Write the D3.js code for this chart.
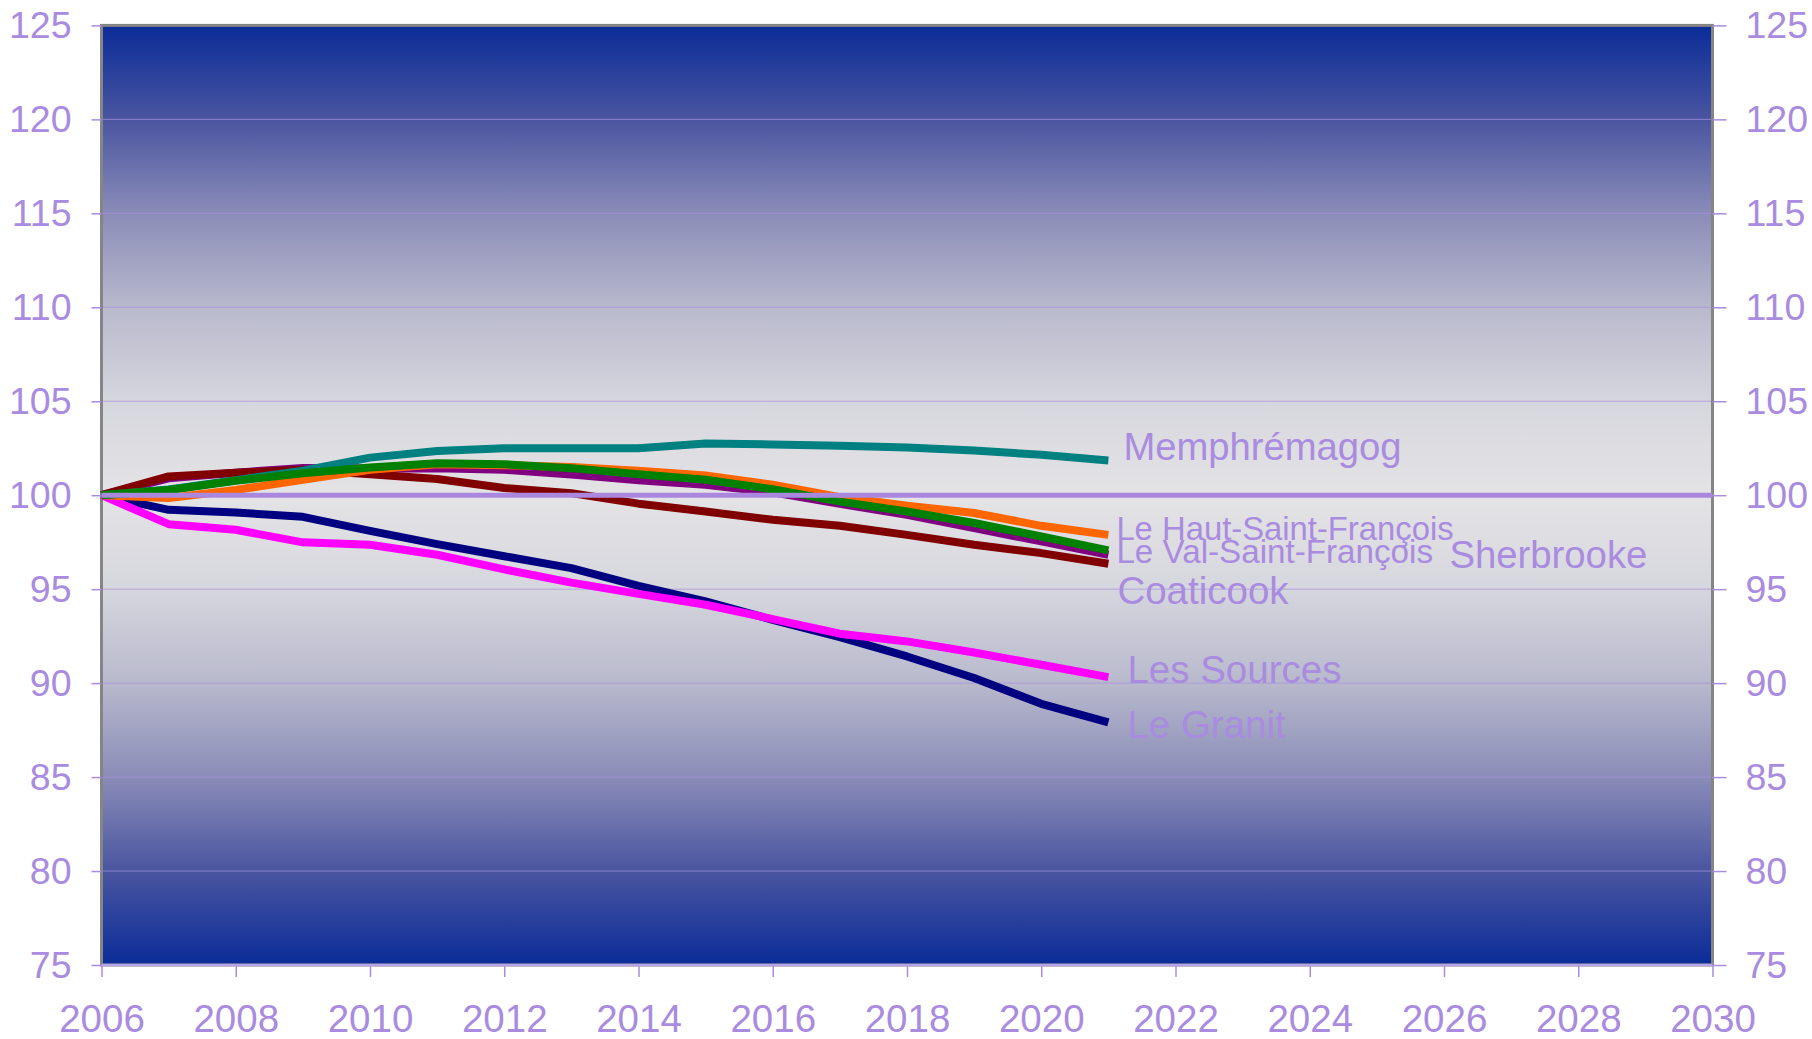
<!DOCTYPE html>
<html>
<head>
<meta charset="utf-8">
<script src="https://cdn.jsdelivr.net/npm/d3@7"></script>
<style>
  body { margin: 0; background: #ffffff; }
  svg { display: block; }
  text { font-family: "Liberation Sans", Arial, sans-serif; fill: #a98be0; }
</style>
</head>
<body>
<div id="chart"></div>
<script>
// years and index values (2006 = 100)
var years = [2006, 2007, 2008, 2009, 2010, 2011, 2012, 2013, 2014, 2015, 2016, 2017, 2018, 2019, 2020, 2021];

var memphremagog   = [100, 100.3, 100.8, 101.3, 102.0, 102.35, 102.5, 102.5, 102.5, 102.75, 102.7, 102.63, 102.54, 102.38, 102.15, 101.85];
var hautStFrancois = [100, 99.85, 100.28, 100.82, 101.35, 101.65, 101.6, 101.5, 101.3, 101.05, 100.56, 99.9, 99.44, 99.05, 98.37, 97.89];
var valStFrancois  = [100, 100.28, 100.77, 101.17, 101.47, 101.7, 101.65, 101.44, 101.12, 100.82, 100.32, 99.66, 99.13, 98.52, 97.8, 97.06];
var sherbrooke     = [100, 100.9, 101.2, 101.45, 101.42, 101.44, 101.35, 101.1, 100.8, 100.56, 100.15, 99.54, 98.96, 98.25, 97.54, 96.83];
var coaticook      = [100, 101.0, 101.2, 101.35, 101.12, 100.86, 100.38, 100.11, 99.55, 99.13, 98.69, 98.37, 97.89, 97.36, 96.92, 96.35];
var lesSources     = [100, 98.46, 98.16, 97.49, 97.36, 96.83, 96.05, 95.35, 94.75, 94.17, 93.41, 92.63, 92.22, 91.63, 90.98, 90.32];
var leGranit       = [100, 99.22, 99.08, 98.85, 98.1, 97.4, 96.75, 96.12, 95.17, 94.35, 93.37, 92.45, 91.42, 90.27, 88.9, 87.91];

var baseValue = 100;

var xTicks = [2006, 2008, 2010, 2012, 2014, 2016, 2018, 2020, 2022, 2024, 2026, 2028, 2030];
var yTicks = [75, 80, 85, 90, 95, 100, 105, 110, 115, 120, 125];

// series in drawing order
var series = [
  { name: "Le Granit", values: leGranit, color: "#000080", dx: 19, dy: 16, size: 38.5 },
  { name: "Les Sources", values: lesSources, color: "#ff00ff", dx: 19, dy: 6, size: 38.5 },
  { name: "Sherbrooke", values: sherbrooke, color: "#800080", dx: 341, dy: 13, size: 38.3 },
  { name: "Coaticook", values: coaticook, color: "#800000", dx: 9, dy: 40, size: 38.5 },
  { name: "Le Haut-Saint-François", values: hautStFrancois, color: "#ff6600", dx: 8, dy: 5, size: 32.8 },
  { name: "Memphrémagog", values: memphremagog, color: "#008080", dx: 15, dy: 0, size: 38.2 },
  { name: "Le Val-Saint-François", values: valStFrancois, color: "#008000", dx: 8, dy: 13, size: 33.2 }
];

var width = 1812;
var height = 1039;

var plotLeft = 101.5;
var plotRight = 1712.5;
var plotTop = 25.4;
var plotBottom = 965;

var svg = d3.select("#chart")
  .append("svg")
  .attr("width", width)
  .attr("height", height);

var xScale = d3.scaleLinear()
  .domain([2006, 2030])
  .range([plotLeft, plotRight]);

var yScale = d3.scaleLinear()
  .domain([75, 125])
  .range([plotBottom, plotTop]);

// background gradient, dark blue at the edges, light grey in the middle
var grad = svg.append("defs")
  .append("linearGradient")
  .attr("id", "bg")
  .attr("x1", 0).attr("y1", 0)
  .attr("x2", 0).attr("y2", 1);

var stops = [
  [0, "#0a2c98"], [0.1, "#4a55a0"], [0.2, "#8a8cb8"], [0.3, "#b8b9cc"],
  [0.4, "#d6d6de"], [0.5, "#e4e4e6"], [0.6, "#d6d6de"], [0.7, "#b8b9cc"],
  [0.8, "#8a8cb8"], [0.9, "#4a55a0"], [1, "#0a2c98"]
];
grad.selectAll("stop").data(stops).enter()
  .append("stop")
  .attr("offset", function(d) { return d[0]; })
  .attr("stop-color", function(d) { return d[1]; });

svg.append("rect")
  .attr("x", plotLeft)
  .attr("y", plotTop)
  .attr("width", plotRight - plotLeft)
  .attr("height", plotBottom - plotTop)
  .attr("fill", "url(#bg)");

// gridlines
svg.append("g")
  .selectAll("line")
  .data(yTicks.filter(function(d) { return d > 75 && d < 125 && d != baseValue; }))
  .enter()
  .append("line")
  .attr("x1", plotLeft)
  .attr("x2", plotRight)
  .attr("y1", function(d) { return yScale(d); })
  .attr("y2", function(d) { return yScale(d); })
  .attr("stroke", "#a890e0")
  .attr("stroke-opacity", 0.75)
  .attr("stroke-width", 1);

// plot border
svg.append("rect")
  .attr("x", plotLeft)
  .attr("y", plotTop)
  .attr("width", plotRight - plotLeft)
  .attr("height", plotBottom - plotTop)
  .attr("fill", "none")
  .attr("stroke", "#858585")
  .attr("stroke-width", 3);

// axes
var yAxisLeft = d3.axisLeft(yScale).tickValues(yTicks).tickSize(10).tickPadding(20);
var yAxisRight = d3.axisRight(yScale).tickValues(yTicks).tickSize(14).tickPadding(19);
var xAxis = d3.axisBottom(xScale).tickValues(xTicks).tickSize(12).tickPadding(28).tickFormat(d3.format("d"));

function styleAxis(g, size) {
  g.select(".domain").remove();
  g.selectAll(".tick line").attr("stroke", "#a98be0").attr("stroke-width", 1.5);
  g.selectAll(".tick text")
    .attr("fill", "#a98be0")
    .attr("font-size", size + "px")
    .attr("font-family", "Liberation Sans, Arial, sans-serif");
}

svg.append("g")
  .attr("transform", "translate(" + plotLeft + ",0)")
  .call(yAxisLeft)
  .call(styleAxis, 37.5);

svg.append("g")
  .attr("transform", "translate(" + plotRight + ",0)")
  .call(yAxisRight)
  .call(styleAxis, 37.5);

svg.append("g")
  .attr("transform", "translate(0," + plotBottom + ")")
  .call(xAxis)
  .call(styleAxis, 38.5);

// bottom axis line
svg.append("line")
  .attr("x1", plotLeft)
  .attr("x2", plotRight)
  .attr("y1", plotBottom)
  .attr("y2", plotBottom)
  .attr("stroke", "#b7a3e8")
  .attr("stroke-width", 2.5);

// data lines
var line = d3.line()
  .x(function(d, i) { return xScale(years[i]); })
  .y(function(d) { return yScale(d); });

svg.append("g")
  .selectAll("path")
  .data(series)
  .enter()
  .append("path")
  .attr("d", function(d) { return line(d.values); })
  .attr("fill", "none")
  .attr("stroke", function(d) { return d.color; })
  .attr("stroke-width", 8)
  .attr("stroke-linejoin", "round");

// reference line at 100
svg.append("line")
  .attr("x1", xScale(2006))
  .attr("x2", xScale(2030))
  .attr("y1", yScale(baseValue))
  .attr("y2", yScale(baseValue))
  .attr("stroke", "#aa88e0")
  .attr("stroke-width", 5);

// series labels at the end of each line
var lastYear = years[years.length - 1];
svg.append("g")
  .selectAll("text")
  .data(series)
  .enter()
  .append("text")
  .attr("x", function(d) { return xScale(lastYear) + d.dx; })
  .attr("y", function(d) { return yScale(d.values[d.values.length - 1]) + d.dy; })
  .attr("font-size", function(d) { return d.size + "px"; })
  .text(function(d) { return d.name; });
</script>
</body>
</html>
